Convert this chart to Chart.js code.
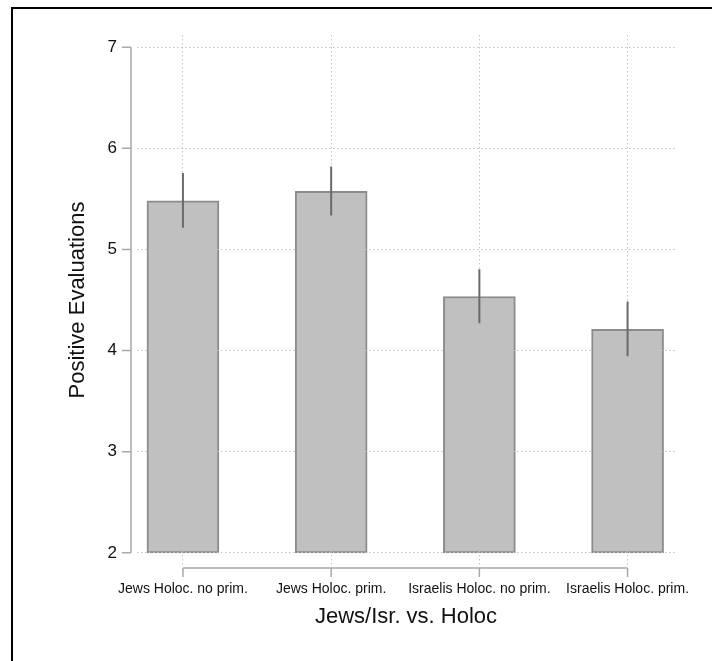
<!DOCTYPE html>
<html lang="en">
<head>
  <meta charset="UTF-8">
  <title>Positive Evaluations</title>
  <script src="https://cdn.jsdelivr.net/npm/chart.js"></script>
  <style>
    html, body {
      margin: 0;
      padding: 0;
      background: #fff;
    }
    #wrap {
      position: relative;
      width: 712px;
      height: 661px;
    }
    #frame {
      position: absolute;
      left: 11px;
      top: 7px;
      right: -10px;
      bottom: -10px;
      border-left: 2px solid #000;
      border-top: 2px solid #000;
      pointer-events: none;
    }
  </style>
</head>
<body>
  <div id="wrap">
    <canvas id="evalChart" width="712" height="661"></canvas>
    <div id="frame"></div>
  </div>

  <script>
    const categories = ['Jews Holoc. no prim.', 'Jews Holoc. prim.', 'Israelis Holoc. no prim.', 'Israelis Holoc. prim.'];
    const means = [5.48, 5.575, 4.535, 4.21];
    const ciLow = [5.215, 5.335, 4.27, 3.945];
    const ciHigh = [5.755, 5.82, 4.805, 4.485];
    const yTicks = [2, 3, 4, 5, 6, 7];
    const barFloor = 2;

    const axisColor = '#a9a9a9';
    const gridColor = '#c4c4c4';
    const fontFamily = 'Liberation Sans, Arial, sans-serif';

    // stata style axis lines, offset from the plot region
    const stataAxes = {
      id: 'stataAxes',
      afterDraw(chart) {
        const {ctx, chartArea} = chart;
        const x = chart.scales.x;
        const y = chart.scales.y;
        ctx.save();
        ctx.strokeStyle = axisColor;
        ctx.lineWidth = 1.5;

        // y axis
        const ax = chartArea.left - 6;
        ctx.beginPath();
        ctx.moveTo(ax, y.getPixelForValue(yTicks[0]));
        ctx.lineTo(ax, y.getPixelForValue(yTicks[yTicks.length - 1]));
        yTicks.forEach(v => {
          const py = y.getPixelForValue(v);
          ctx.moveTo(ax - 9, py);
          ctx.lineTo(ax, py);
        });
        ctx.stroke();

        // x axis
        const ay = chartArea.bottom + 3;
        ctx.beginPath();
        ctx.moveTo(x.getPixelForValue(1), ay);
        ctx.lineTo(x.getPixelForValue(categories.length), ay);
        categories.forEach((c, i) => {
          const px = x.getPixelForValue(i + 1);
          ctx.moveTo(px, ay);
          ctx.lineTo(px, ay + 9);
        });
        ctx.stroke();

        // error bars
        ctx.strokeStyle = '#6a6a6a';
        ctx.lineWidth = 2;
        ctx.beginPath();
        categories.forEach((c, i) => {
          const px = x.getPixelForValue(i + 1);
          ctx.moveTo(px, y.getPixelForValue(ciLow[i]));
          ctx.lineTo(px, y.getPixelForValue(ciHigh[i]));
        });
        ctx.stroke();
        ctx.restore();
      }
    };

    const ctx = document.getElementById('evalChart').getContext('2d');

    const chart = new Chart(ctx, {
      type: 'bar',
      data: {
        datasets: [{
          data: categories.map((c, i) => ({ x: i + 1, y: [barFloor, means[i]] })),
          backgroundColor: '#c0c0c0',
          borderColor: '#8c8c8c',
          borderWidth: 2,
          borderSkipped: false,
          barThickness: 72
        }]
      },
      options: {
        responsive: false,
        animation: false,
        layout: {
          padding: { left: 0, top: 35, right: 37, bottom: 0 }
        },
        plugins: {
          legend: { display: false },
          tooltip: { enabled: false }
        },
        scales: {
          x: {
            type: 'linear',
            min: 0.69,
            max: 4.32,
            offset: false,
            afterBuildTicks: s => { s.ticks = categories.map((c, i) => ({ value: i + 1 })); },
            afterFit: s => { s.height = 96; },
            grid: {
              z: 1,
              offset: false,
              color: gridColor,
              lineWidth: 1,
              drawTicks: false
            },
            border: { display: false, dash: [1.5, 2.5] },
            ticks: {
              padding: 16,
              maxRotation: 0,
              autoSkip: false,
              color: '#111',
              font: { family: fontFamily, size: 14 },
              callback: v => categories[v - 1]
            },
            title: {
              display: true,
              text: 'Jews/Isr. vs. Holoc',
              color: '#111',
              font: { family: fontFamily, size: 22 },
              padding: { top: 0, bottom: 31 }
            }
          },
          y: {
            min: 1.88,
            max: 7.12,
            afterBuildTicks: s => { s.ticks = yTicks.map(v => ({ value: v })); },
            afterFit: s => { s.width = 137; },
            grid: {
              z: 1,
              color: gridColor,
              lineWidth: 1,
              drawTicks: false
            },
            border: { display: false, dash: [1.5, 2.5] },
            ticks: {
              padding: 20,
              color: '#111',
              font: { family: fontFamily, size: 17 }
            },
            title: {
              display: true,
              text: 'Positive Evaluations',
              color: '#111',
              font: { family: fontFamily, size: 22 },
              padding: { top: 65, bottom: 0 }
            }
          }
        }
      },
      plugins: [stataAxes]
    });
  </script>
</body>
</html>
